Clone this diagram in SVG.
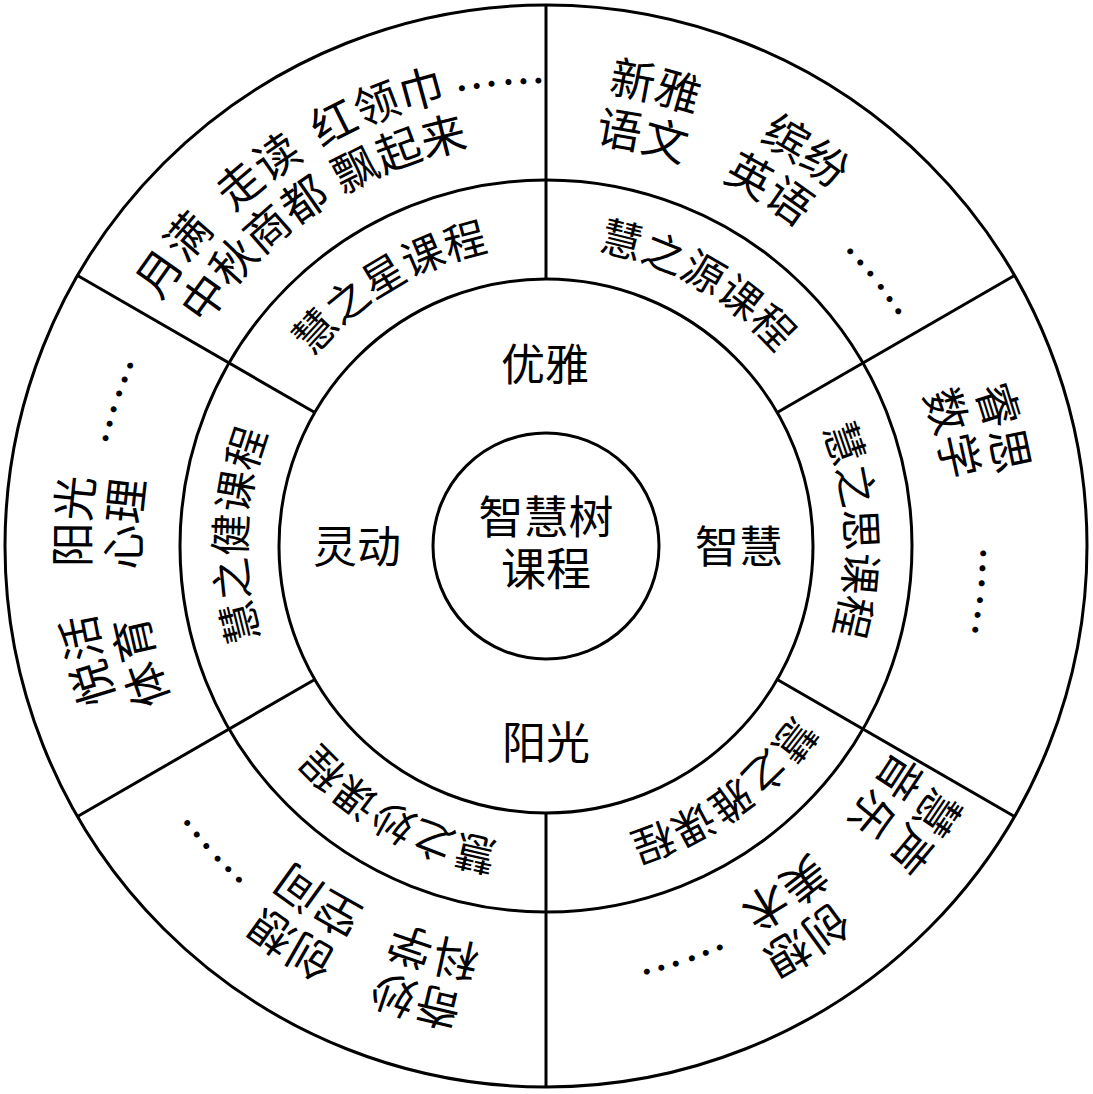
<svg xmlns="http://www.w3.org/2000/svg" xmlns:xlink="http://www.w3.org/1999/xlink" width="1093" height="1094" viewBox="0 0 1093 1094">
<style>
.ln{fill:none;stroke:#000;stroke-width:3}
.t{font-family:"Noto Sans CJK SC","Noto Sans CJK TC",sans-serif;fill:#000;text-anchor:middle}
.c{font-size:42px}
.o{font-size:45px}
.m{font-size:44px}
</style>
<defs>
<path id="p300" d="M546,846 A300,300 0 1 1 546,246 A300,300 0 1 1 546,846"/>
<path id="p457" d="M546,1003 A457,457 0 1 1 546,89 A457,457 0 1 1 546,1003"/>
<path id="p448" d="M546,994 A448,448 0 1 1 546,98 A448,448 0 1 1 546,994"/>
<path id="p406" d="M546,952 A406,406 0 1 1 546,140 A406,406 0 1 1 546,952"/>
<path id="p436" d="M546,982 A436,436 0 1 1 546,110 A436,436 0 1 1 546,982"/>
<path id="p420" d="M546,966 A420,420 0 1 1 546,126 A420,420 0 1 1 546,966"/>
</defs>
<rect width="1093" height="1094" fill="#fff"/>
<g id="rings">
<circle class="ln" cx="546" cy="546" r="541"/>
<circle class="ln" cx="546" cy="546" r="366"/>
<circle class="ln" cx="546" cy="546" r="267"/>
<circle class="ln" cx="546" cy="546" r="113"/>
</g>
<g id="connectors">
<line class="ln" x1="546" y1="279" x2="546" y2="5" stroke-width="3.5"/>
<line class="ln" x1="777.2" y1="412.5" x2="1014.5" y2="275.5"/>
<line class="ln" x1="777.2" y1="679.5" x2="1014.5" y2="816.5"/>
<line class="ln" x1="546" y1="813" x2="546" y2="1087" stroke-width="3.5"/>
<line class="ln" x1="314.8" y1="679.5" x2="77.5" y2="816.5"/>
<line class="ln" x1="314.8" y1="412.5" x2="77.5" y2="275.5"/>
</g>
<g id="center">
<text class="t" font-size="45" x="546" y="534">智慧树</text>
<text class="t" font-size="45" x="546" y="586">课程</text>
</g>
<g id="youya"><text class="t m" x="545" y="381">优雅</text></g>
<g id="zhihui"><text class="t m" x="739" y="563">智慧</text></g>
<g id="yangguang"><text class="t m" x="546" y="759">阳光</text></g>
<g id="lingdong"><text class="t m" x="357" y="563">灵动</text></g>
<g id="huizhixing"><text class="t c"><textPath xlink:href="#p300" href="#p300" startOffset="41.39%">慧之星课程</textPath></text></g>
<g id="huizhiyuan"><text class="t c"><textPath xlink:href="#p300" href="#p300" startOffset="58.33%">慧之源课程</textPath></text></g>
<g id="huizhisi"><text class="t c"><textPath xlink:href="#p300" href="#p300" startOffset="74.17%">慧之思课程</textPath></text></g>
<g id="huizhiya"><text class="t c"><textPath xlink:href="#p300" href="#p300" startOffset="90%">慧之雅课程</textPath></text></g>
<g id="huizhimiao"><text class="t c"><textPath xlink:href="#p300" href="#p300" startOffset="8.06%">慧之妙课程</textPath></text></g>
<g id="huizhijian"><text class="t c"><textPath xlink:href="#p300" href="#p300" startOffset="25.56%">慧之健课程</textPath></text></g>
<g id="sector-star">
<text class="t o"><textPath xlink:href="#p457" href="#p457" startOffset="35.56%">月满</textPath></text>
<text class="t o"><textPath xlink:href="#p457" href="#p457" startOffset="39.58%">走读</textPath></text>
<text class="t o"><textPath xlink:href="#p457" href="#p457" startOffset="44.17%">红领巾</textPath></text>
<text class="t o"><textPath xlink:href="#p448" href="#p448" startOffset="48.42%">……</textPath></text>
<text class="t o"><textPath xlink:href="#p406" href="#p406" startOffset="37.64%">中秋商都</textPath></text>
<text class="t o"><textPath xlink:href="#p406" href="#p406" startOffset="44.31%">飘起来</textPath></text>
</g>
<g id="sector-source">
<text class="t o"><textPath xlink:href="#p457" href="#p457" startOffset="53.72%">新雅</textPath></text>
<text class="t o"><textPath xlink:href="#p406" href="#p406" startOffset="53.67%">语文</textPath></text>
<text class="t o"><textPath xlink:href="#p457" href="#p457" startOffset="59.25%">缤纷</textPath></text>
<text class="t o"><textPath xlink:href="#p406" href="#p406" startOffset="58.89%">英语</textPath></text>
<text class="t o"><textPath xlink:href="#p406" href="#p406" startOffset="64.2%">……</textPath></text>
</g>
<g id="sector-think">
<text class="t o"><textPath xlink:href="#p457" href="#p457" startOffset="70.97%">睿思</textPath></text>
<text class="t o"><textPath xlink:href="#p406" href="#p406" startOffset="70.69%">数学</textPath></text>
<text class="t o"><textPath xlink:href="#p420" href="#p420" startOffset="76.67%">……</textPath></text>
</g>
<g id="sector-elegant">
<text class="t o"><textPath xlink:href="#p457" href="#p457" startOffset="85.3%">慧声</textPath></text>
<text class="t o"><textPath xlink:href="#p406" href="#p406" startOffset="85.1%">音乐</textPath></text>
<text class="t o"><textPath xlink:href="#p457" href="#p457" startOffset="90.7%">创想</textPath></text>
<text class="t o"><textPath xlink:href="#p406" href="#p406" startOffset="90.4%">美术</textPath></text>
<text class="t o"><textPath xlink:href="#p420" href="#p420" startOffset="94.9%">……</textPath></text>
</g>
<g id="sector-wonder">
<text class="t o"><textPath xlink:href="#p457" href="#p457" startOffset="4.44%">奇妙</textPath></text>
<text class="t o"><textPath xlink:href="#p406" href="#p406" startOffset="4.31%">科学</textPath></text>
<text class="t o"><textPath xlink:href="#p457" href="#p457" startOffset="9.06%">创想</textPath></text>
<text class="t o"><textPath xlink:href="#p406" href="#p406" startOffset="9.08%">空间</textPath></text>
<text class="t o"><textPath xlink:href="#p436" href="#p436" startOffset="13.19%">……</textPath></text>
</g>
<g id="sector-health">
<text class="t o"><textPath xlink:href="#p457" href="#p457" startOffset="25.83%">阳光</textPath></text>
<text class="t o"><textPath xlink:href="#p406" href="#p406" startOffset="25.83%">心理</textPath></text>
<text class="t o"><textPath xlink:href="#p457" href="#p457" startOffset="21.11%">悦活</textPath></text>
<text class="t o"><textPath xlink:href="#p406" href="#p406" startOffset="20.56%">体育</textPath></text>
<text class="t o"><textPath xlink:href="#p436" href="#p436" startOffset="30.17%">……</textPath></text>
</g>
</svg>
